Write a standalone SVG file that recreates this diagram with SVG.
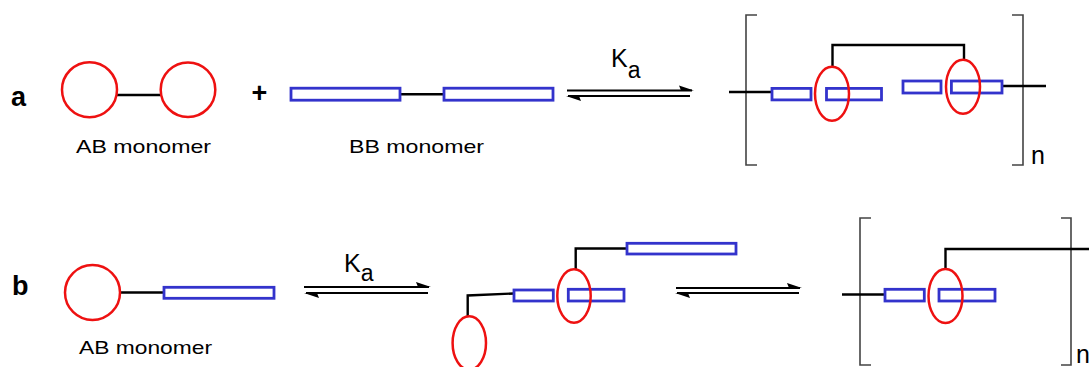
<svg xmlns="http://www.w3.org/2000/svg" width="1089" height="367" viewBox="0 0 1089 367">
<style>
  .lbl { font-family: "Liberation Sans", Arial, sans-serif; font-weight: bold; font-size: 27px; fill: #000; }
  .cap { font-family: "Liberation Sans", Arial, sans-serif; font-size: 19px; fill: #000; }
  .k { font-family: "Liberation Sans", Arial, sans-serif; font-size: 25px; fill: #000; }
  .ring { fill: none; stroke: #ee1111; stroke-width: 2.5; }
  .bar { fill: #fff; stroke: #3333cc; stroke-width: 2.8; }
  .ln { fill: none; stroke: #000; stroke-width: 2.4; }
  .br { fill: none; stroke: #444; stroke-width: 1.6; }
  .ar { fill: none; stroke: #000; stroke-width: 2; }
  .hd { fill: #000; stroke: none; }
</style>
<rect width="1089" height="367" fill="#fff"/>

<!-- Row a -->
<g id="label-a"><text class="lbl" x="11" y="106">a</text></g>

<g id="ab-monomer-a">
  <line class="ln" x1="117" y1="95" x2="161" y2="95"/>
  <circle class="ring" cx="89.5" cy="89.7" r="27.5"/>
  <circle class="ring" cx="188" cy="89.7" r="27.3"/>
  <text class="cap" x="76" y="153" textLength="135" lengthAdjust="spacingAndGlyphs">AB monomer</text>
</g>

<g id="plus"><text class="lbl" x="259.5" y="102" font-size="22" text-anchor="middle">+</text></g>

<g id="bb-monomer">
  <line class="ln" x1="400" y1="94.3" x2="444" y2="94.3"/>
  <rect class="bar" x="291" y="88.2" width="109" height="12"/>
  <rect class="bar" x="444" y="88.2" width="109" height="12"/>
  <text class="cap" x="349" y="153" textLength="135" lengthAdjust="spacingAndGlyphs">BB monomer</text>
</g>

<g id="ka-a"><text class="k" x="611" y="67">K<tspan font-size="23" dy="11">a</tspan></text></g>

<g id="polymer-a">
  <path class="br" d="M757,15 H746 V165 H757"/>
  <path class="br" d="M1012,15 H1023 V165 H1012"/>
  <line class="ln" x1="729" y1="92" x2="772" y2="92"/>
  <line class="ln" x1="1002" y1="86" x2="1046" y2="86"/>
  <path class="ln" d="M832.5,67 V45 H964 V60"/>
  <rect class="bar" x="772" y="88.4" width="39" height="11.5"/>
  <rect class="bar" x="826.5" y="88.4" width="55" height="11.5"/>
  <rect class="bar" x="903" y="81" width="38" height="12"/>
  <rect class="bar" x="951.4" y="81" width="50.6" height="12"/>
  <ellipse class="ring" cx="832" cy="93.8" rx="17" ry="27"/>
  <ellipse class="ring" cx="963" cy="86.7" rx="17" ry="27"/>
  <text class="k" x="1031" y="164" font-size="22">n</text>
</g>

<!-- Row b -->
<g id="label-b"><text class="lbl" x="12" y="295">b</text></g>

<g id="ab-monomer-b">
  <line class="ln" x1="120" y1="292.5" x2="164" y2="292.5"/>
  <circle class="ring" cx="92.5" cy="292.5" r="27.5"/>
  <rect class="bar" x="164" y="287.3" width="110" height="11"/>
  <text class="cap" x="79" y="354" textLength="133" lengthAdjust="spacingAndGlyphs">AB monomer</text>
</g>

<g id="ka-b"><text class="k" x="344" y="272">K<tspan font-size="23" dy="9">a</tspan></text></g>

<g id="dimer-b">
  <path class="ln" d="M627,248.5 H575.7 V269.3"/>
  <path class="ln" d="M514,293.5 L467.7,295.5 V316"/>
  <rect class="bar" x="627" y="243.3" width="109" height="10.7"/>
  <rect class="bar" x="514" y="290" width="39.3" height="11"/>
  <rect class="bar" x="568.3" y="289.3" width="55.7" height="11.7"/>
  <ellipse class="ring" cx="574" cy="296" rx="16.7" ry="26.7"/>
  <ellipse class="ring" cx="469.3" cy="343" rx="16.7" ry="26.7"/>
</g>

<g id="polymer-b">
  <path class="br" d="M871,218 H860 V365 H871"/>
  <path class="br" d="M1061,218 H1071 V365 H1061"/>
  <line class="ln" x1="842" y1="294.5" x2="885" y2="294.5"/>
  <path class="ln" d="M945.5,269 V249 H1089"/>
  <rect class="bar" x="885" y="289.3" width="39.3" height="11.7"/>
  <rect class="bar" x="939" y="289.3" width="56" height="11.7"/>
  <ellipse class="ring" cx="945.5" cy="296" rx="17" ry="27"/>
  <text class="k" x="1076" y="363" font-size="20">n</text>
</g>

<!-- Connectors: equilibrium arrows -->
<g id="connectors">
  <g id="eq-a">
    <line class="ar" x1="567" y1="90.5" x2="692" y2="90.5"/>
    <polygon class="hd" points="694,90.5 679,85.5 681,90.5"/>
    <line class="ar" x1="568" y1="96" x2="690" y2="96"/>
    <polygon class="hd" points="566,96 581,101 579,96"/>
  </g>
  <g id="eq-b1">
    <line class="ar" x1="304" y1="287" x2="429" y2="287"/>
    <polygon class="hd" points="431,287 416,282 418,287"/>
    <line class="ar" x1="306" y1="293" x2="428" y2="293"/>
    <polygon class="hd" points="304,293 319,298 317,293"/>
  </g>
  <g id="eq-b2">
    <line class="ar" x1="676" y1="288" x2="800" y2="288"/>
    <polygon class="hd" points="802,288 787,283 789,288"/>
    <line class="ar" x1="677" y1="293" x2="799" y2="293"/>
    <polygon class="hd" points="675,293 690,298 688,293"/>
  </g>
</g>
</svg>
